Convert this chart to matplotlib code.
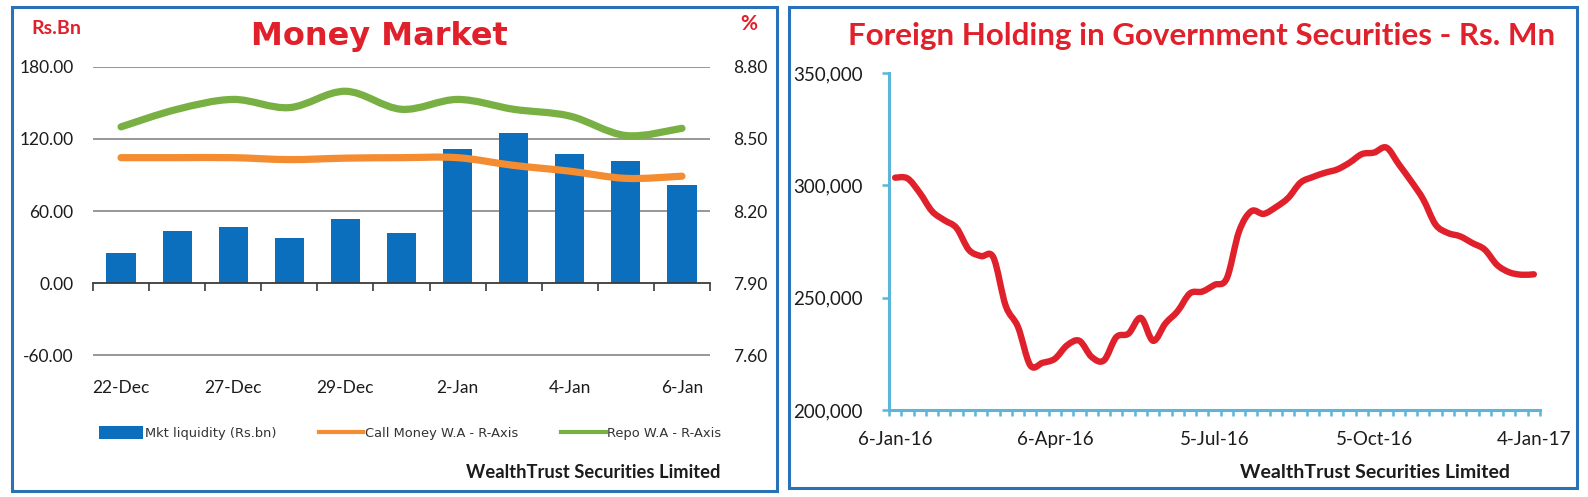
import matplotlib
matplotlib.use("Agg")
import matplotlib.pyplot as plt
from matplotlib.patches import Rectangle, Patch, PathPatch
from matplotlib.lines import Line2D
from matplotlib.path import Path
import numpy as np

# ---------------- data ----------------
mm_dates = ['22-Dec', '23-Dec', '27-Dec', '28-Dec', '29-Dec', '30-Dec',
            '2-Jan', '3-Jan', '4-Jan', '5-Jan', '6-Jan']
mm_label_idx = [0, 2, 4, 6, 8, 10]
mkt_liquidity = [25.0, 43.5, 46.5, 38.0, 53.5, 42.0, 111.5, 124.5, 107.5, 101.5, 82.0]
call_money = [8.422, 8.422, 8.422, 8.414, 8.420, 8.422, 8.422, 8.390, 8.366, 8.336, 8.345]
repo_rate = [8.550, 8.623, 8.664, 8.630, 8.698, 8.623, 8.664, 8.623, 8.595, 8.514, 8.544]

fh_values = [303400, 303100, 296700, 288500, 284500, 281000, 271300, 268500, 267900,
             246400, 237000, 219900, 221000, 222800, 228800, 230800, 223600, 222100,
             232400, 234000, 241000, 230800, 238500, 244000, 251900, 252700, 255700,
             258600, 279500, 288500, 287300, 290300, 294400, 301200, 303700, 305600,
             307100, 310100, 313900, 314600, 316800, 309400, 301900, 293700, 282500,
             278800, 277300, 274300, 271400, 264600, 261300, 260200, 260400]
fh_label_idx = [0, 13, 26, 39, 52]
fh_labels = ['6-Jan-16', '6-Apr-16', '5-Jul-16', '5-Oct-16', '4-Jan-17']

left_ticks = [-60, 0, 60, 120, 180]
right_ticks = [7.60, 7.90, 8.20, 8.50, 8.80]
fh_ticks = [200000, 250000, 300000, 350000]

# ---------------- style ----------------
W, H = 1588, 497
fig = plt.figure(figsize=(W / 100, H / 100), dpi=100)
fig.patch.set_facecolor('white')

RED = '#E0202A'
BLUE_BAR = '#0B6FBE'
ORANGE = '#F48C32'
GREEN = '#78B043'
GRID = '#7a7a7a'
BORDER = '#2A72B8'
AXBLUE = '#5BB6DA'
TXT = '#1c1c1c'
TICKF = ['Lato', 'DejaVu Sans']


def fx(px):
    return px / W


def fy(py):
    return 1 - py / H


def smooth_path(xs, ys, t=1 / 6):
    """Excel-style smoothed line through the data points (cubic Bezier segments)."""
    pts = list(zip(xs, ys))
    verts = [pts[0]]
    codes = [Path.MOVETO]
    n = len(pts)
    for i in range(n - 1):
        p0 = pts[i - 1] if i > 0 else pts[i]
        p1 = pts[i]
        p2 = pts[i + 1]
        p3 = pts[i + 2] if i + 2 < n else pts[i + 1]
        c1 = (p1[0] + (p2[0] - p0[0]) * t, p1[1] + (p2[1] - p0[1]) * t)
        c2 = (p2[0] - (p3[0] - p1[0]) * t, p2[1] - (p3[1] - p1[1]) * t)
        verts += [c1, c2, p2]
        codes += [Path.CURVE4] * 3
    return Path(verts, codes)


def smooth_line(axis, xs, ys, color, lw):
    axis.add_patch(PathPatch(smooth_path(xs, ys), fill=False, edgecolor=color,
                             linewidth=lw, capstyle='round', joinstyle='round', zorder=4))


# panel borders
for x0, x1, y0, y1 in [(12, 777, 7, 491), (789, 1577, 7, 488)]:
    fig.add_artist(Rectangle((fx(x0), fy(y1)), fx(x1) - fx(x0), fy(y0) - fy(y1),
                             transform=fig.transFigure, fill=False,
                             edgecolor=BORDER, linewidth=2.2))

# ---------------- left: Money Market ----------------
ax = fig.add_axes([fx(93), fy(355.5), fx(710) - fx(93), fy(66.7) - fy(355.5)])
x = np.arange(len(mm_dates))
ax.bar(x, mkt_liquidity, width=0.52, color=BLUE_BAR, zorder=2)
ax.set_xlim(-0.5, len(mm_dates) - 0.5)
ax.set_ylim(-60, 180)
ax.set_yticks(left_ticks)
ax.set_yticklabels(['%.2f' % v for v in left_ticks], family=TICKF, fontsize=12.5, color=TXT)
ax.tick_params(axis='y', length=0, pad=14)
for v in left_ticks:
    if v != 0:
        ax.axhline(v, color=GRID, linewidth=1.1, zorder=1)
for s in ['top', 'right', 'left']:
    ax.spines[s].set_visible(False)
ax.spines['bottom'].set_position(('data', 0))
ax.spines['bottom'].set_color('#3a3a3a')
ax.spines['bottom'].set_linewidth(1.3)
ax.spines['bottom'].set_zorder(3)
ax.set_xticks(np.arange(-0.5, len(mm_dates), 1.0))
ax.tick_params(axis='x', direction='out', length=5.5, width=1.2, color='#3a3a3a',
               labelbottom=False)

sec = ax.secondary_xaxis('bottom')
sec.set_xticks([x[i] for i in mm_label_idx])
sec.set_xticklabels([mm_dates[i] for i in mm_label_idx], family=TICKF, fontsize=12.5, color=TXT)
sec.tick_params(length=0, pad=18)
sec.spines['bottom'].set_visible(False)

ax2 = ax.twinx()
ax2.set_ylim(7.6, 8.8)
ax2.set_yticks(right_ticks)
ax2.set_yticklabels(['%.2f' % v for v in right_ticks], family=TICKF, fontsize=12.5, color=TXT)
ax2.tick_params(axis='y', length=0, pad=17)
for s in ax2.spines.values():
    s.set_visible(False)
smooth_line(ax2, x, call_money, ORANGE, 5.2)
smooth_line(ax2, x, repo_rate, GREEN, 5.2)

fig.text(fx(31), fy(28), 'Rs.Bn', family=['Lato', 'DejaVu Sans'], weight='bold',
         fontsize=14, color=RED, ha='left', va='center')
fig.text(fx(749), fy(24), '%', family=['Lato', 'DejaVu Sans'], weight='bold',
         fontsize=15, color=RED, ha='center', va='center')
fig.text(fx(379), fy(37), 'Money Market', family='DejaVu Sans', weight='bold',
         fontsize=23, color=RED, ha='center', va='center')

handles = [Patch(facecolor=BLUE_BAR, edgecolor='none'),
           Line2D([0], [0], color=ORANGE, linewidth=3),
           Line2D([0], [0], color=GREEN, linewidth=3)]
leg = fig.legend(handles, ['Mkt liquidity (Rs.bn)', 'Call Money W.A - R-Axis', 'Repo W.A - R-Axis'],
                 loc='center', bbox_to_anchor=(fx(410), fy(433)), ncol=3, frameon=False,
                 fontsize=9.4, handlelength=3.4, handleheight=1.1, handletextpad=0.12,
                 columnspacing=3.3, borderpad=0, borderaxespad=0)
for t in leg.get_texts():
    t.set_color('#333333')

fig.text(fx(721), fy(473), 'WealthTrust Securities Limited', family=TICKF, weight='bold',
         fontsize=13.2, color=TXT, ha='right', va='center')

# ---------------- right: Foreign Holding ----------------
bx = fig.add_axes([fx(889), fy(410), fx(1540) - fx(889), fy(73) - fy(410)])
xi = np.arange(len(fh_values))
smooth_line(bx, xi, fh_values, RED, 4.6)
bx.set_xlim(-0.5, len(fh_values) - 0.5)
bx.set_ylim(200000, 350000)
bx.set_yticks(fh_ticks)
bx.set_yticklabels(['{:,}'.format(v) for v in fh_ticks], family=TICKF, fontsize=13.5, color=TXT)
bx.set_xticks(fh_label_idx)
bx.set_xticklabels(fh_labels, family=TICKF, fontsize=13.5, color=TXT)
bx.set_xticks(np.arange(-0.5, len(fh_values), 1.0), minor=True)
bx.tick_params(axis='x', which='major', length=0, pad=15)
bx.tick_params(axis='x', which='minor', direction='out', length=4, width=1.8, color=AXBLUE)
bx.tick_params(axis='y', direction='out', length=5, width=1.8, color=AXBLUE, pad=14)
for s in ['top', 'right']:
    bx.spines[s].set_visible(False)
for s in ['left', 'bottom']:
    bx.spines[s].set_color(AXBLUE)
    bx.spines[s].set_linewidth(2.2)

fig.text(fx(1202), fy(36), 'Foreign Holding in Government Securities - Rs. Mn', family=TICKF,
         weight='bold', fontsize=22.6, color=RED, ha='center', va='center')
fig.text(fx(1510), fy(473), 'WealthTrust Securities Limited', family=TICKF, weight='bold',
         fontsize=14, color=TXT, ha='right', va='center')

fig.savefig('out.png', dpi=100, facecolor='white')
